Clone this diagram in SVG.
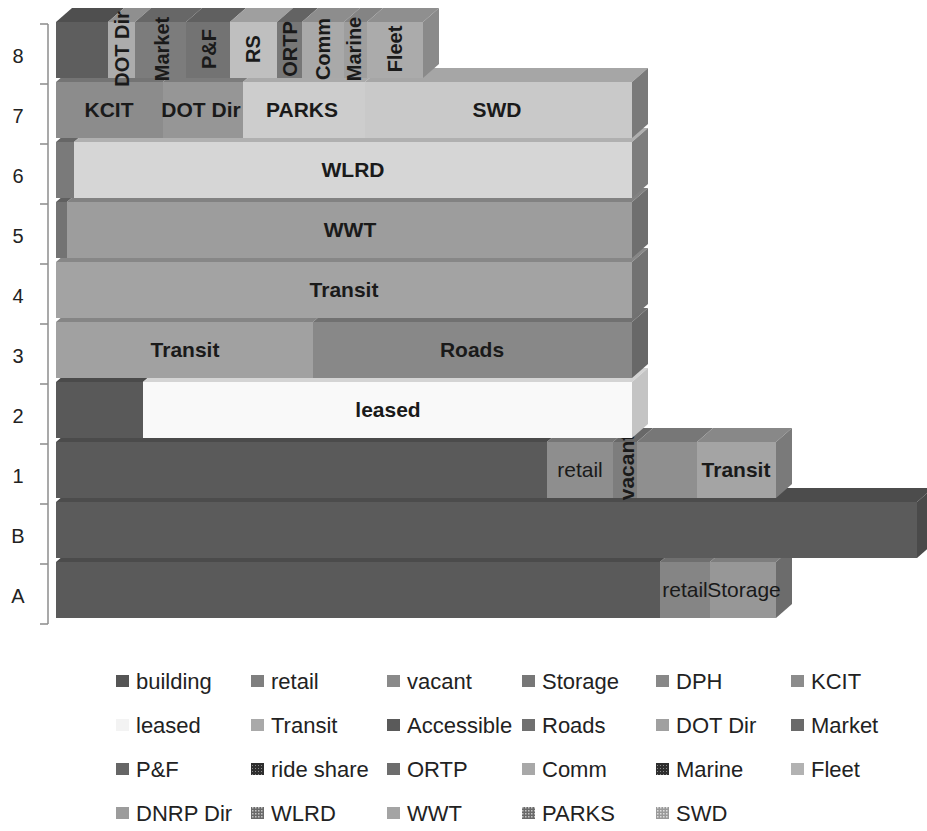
<svg xmlns="http://www.w3.org/2000/svg" width="927" height="831" viewBox="0 0 927 831">
<style>
.cat{font-family:"Liberation Sans",Arial,sans-serif;font-size:20px;fill:#222;text-anchor:middle}
.lb{font-family:"Liberation Sans",Arial,sans-serif;font-size:21px;font-weight:bold;fill:#1a1a1a;text-anchor:middle}
.lr{font-family:"Liberation Sans",Arial,sans-serif;font-size:21px;fill:#1a1a1a;text-anchor:middle}
.lv{font-family:"Liberation Sans",Arial,sans-serif;font-size:20px;font-weight:bold;fill:#1a1a1a;text-anchor:middle;dominant-baseline:central}
.lg{font-family:"Liberation Sans",Arial,sans-serif;font-size:22px;fill:#222}
.ax{stroke:#8c8c8c;stroke-width:1.5;fill:none}
</style>
<defs>
<pattern id="pDark" width="3" height="3" patternUnits="userSpaceOnUse"><rect width="3" height="3" fill="#2e2e2e"/><rect width="1" height="1" fill="#8a8a8a"/></pattern>
<pattern id="pMid" width="3" height="3" patternUnits="userSpaceOnUse"><rect width="3" height="3" fill="#6a6a6a"/><rect width="1.5" height="1.5" fill="#c4c4c4"/></pattern>
<pattern id="pLight" width="3" height="3" patternUnits="userSpaceOnUse"><rect width="3" height="3" fill="#9a9a9a"/><rect width="1.5" height="1.5" fill="#dedede"/></pattern>
</defs>
<rect width="927" height="831" fill="#ffffff"/>

<g id="axis">
<line class="ax" x1="48" y1="24" x2="48" y2="624"/>
<path class="ax" d="M40 24H48M40 84H48M40 144H48M40 204H48M40 264H48M40 324H48M40 384H48M40 444H48M40 504H48M40 564H48M40 624H48"/>
<text class="cat" x="18" y="63">8</text>
<text class="cat" x="18" y="123">7</text>
<text class="cat" x="18" y="183">6</text>
<text class="cat" x="18" y="243">5</text>
<text class="cat" x="18" y="303">4</text>
<text class="cat" x="18" y="363">3</text>
<text class="cat" x="18" y="423">2</text>
<text class="cat" x="18" y="483">1</text>
<text class="cat" x="18" y="543">B</text>
<text class="cat" x="18" y="603">A</text>
</g>

<g id="bar-A">
<polygon points="56,562 660,562 676,548 72,548" fill="#4b4b4b"/>
<polygon points="660,562 710,562 726,548 676,548" fill="#6f6f6f"/>
<polygon points="710,562 776,562 792,548 726,548" fill="#7e7e7e"/>
<polygon points="776,562 792,548 792,604 776,618" fill="#6c6c6c"/>
<rect x="56" y="562" width="604" height="56" fill="#5a5a5a"/>
<rect x="660" y="562" width="50" height="56" fill="#858585"/>
<rect x="710" y="562" width="66" height="56" fill="#979797"/>
<text class="lr" x="685" y="597">retail</text>
<text class="lr" x="744" y="597">Storage</text>
</g>

<g id="bar-B">
<polygon points="56,502 917,502 933,488 72,488" fill="#4c4c4c"/>
<polygon points="917,502 933,488 933,544 917,558" fill="#4a4a4a"/>
<rect x="56" y="502" width="861" height="56" fill="#5b5b5b"/>
</g>

<g id="bar-1">
<polygon points="56,442 547,442 563,428 72,428" fill="#4b4b4b"/>
<polygon points="547,442 613,442 629,428 563,428" fill="#767676"/>
<polygon points="613,442 637,442 653,428 629,428" fill="#686868"/>
<polygon points="637,442 697,442 713,428 653,428" fill="#777777"/>
<polygon points="697,442 776,442 792,428 713,428" fill="#888888"/>
<polygon points="776,442 792,428 792,484 776,498" fill="#7a7a7a"/>
<rect x="56" y="442" width="491" height="56" fill="#5a5a5a"/>
<rect x="547" y="442" width="66" height="56" fill="#8e8e8e"/>
<rect x="613" y="442" width="24" height="56" fill="#7d7d7d"/>
<rect x="637" y="442" width="60" height="56" fill="#8f8f8f"/>
<rect x="697" y="442" width="79" height="56" fill="#a4a4a4"/>
<text class="lr" x="580" y="477">retail</text>
<text class="lb" style="dominant-baseline:central" transform="translate(626,467) rotate(-90)">vacant</text>
<text class="lb" x="736" y="477">Transit</text>
</g>

<g id="bar-2">
<polygon points="56,382 143,382 159,368 72,368" fill="#4a4a4a"/>
<polygon points="143,382 632,382 648,368 159,368" fill="#d4d4d4"/>
<polygon points="632,382 648,368 648,424 632,438" fill="#c4c4c4"/>
<rect x="56" y="382" width="87" height="56" fill="#595959"/>
<rect x="143" y="382" width="489" height="56" fill="#f9f9f9"/>
<text class="lb" x="388" y="417">leased</text>
</g>

<g id="bar-3">
<polygon points="56,322 313,322 329,308 72,308" fill="#858585"/>
<polygon points="313,322 632,322 648,308 329,308" fill="#717171"/>
<polygon points="632,322 648,308 648,364 632,378" fill="#686868"/>
<rect x="56" y="322" width="257" height="56" fill="#a1a1a1"/>
<rect x="313" y="322" width="319" height="56" fill="#888888"/>
<text class="lb" x="185" y="357">Transit</text>
<text class="lb" x="472" y="357">Roads</text>
</g>

<g id="bar-4">
<polygon points="56,262 632,262 648,248 72,248" fill="#878787"/>
<polygon points="632,262 648,248 648,304 632,318" fill="#727272"/>
<rect x="56" y="262" width="576" height="56" fill="#a3a3a3"/>
<text class="lb" x="344" y="297">Transit</text>
</g>

<g id="bar-5">
<polygon points="56,202 67,202 83,188 72,188" fill="#606060"/>
<polygon points="67,202 632,202 648,188 83,188" fill="#828282"/>
<polygon points="632,202 648,188 648,244 632,258" fill="#6f6f6f"/>
<rect x="56" y="202" width="11" height="56" fill="#737373"/>
<rect x="67" y="202" width="565" height="56" fill="#9d9d9d"/>
<text class="lb" x="350" y="237">WWT</text>
</g>

<g id="bar-6">
<polygon points="56,142 74,142 90,128 72,128" fill="#666666"/>
<polygon points="74,142 632,142 648,128 90,128" fill="#b0b0b0"/>
<polygon points="632,142 648,128 648,184 632,198" fill="#7d7d7d"/>
<rect x="56" y="142" width="18" height="56" fill="#7a7a7a"/>
<rect x="74" y="142" width="558" height="56" fill="#d6d6d6"/>
<text class="lb" x="353" y="177">WLRD</text>
</g>

<g id="bar-7">
<polygon points="56,82 163,82 179,68 72,68" fill="#747474"/>
<polygon points="163,82 243,82 259,68 179,68" fill="#7c7c7c"/>
<polygon points="243,82 365,82 381,68 259,68" fill="#aaaaaa"/>
<polygon points="365,82 632,82 648,68 381,68" fill="#a6a6a6"/>
<polygon points="632,82 648,68 648,124 632,138" fill="#7a7a7a"/>
<rect x="56" y="82" width="107" height="56" fill="#8c8c8c"/>
<rect x="163" y="82" width="80" height="56" fill="#969696"/>
<rect x="243" y="82" width="122" height="56" fill="#cdcdcd"/>
<rect x="365" y="82" width="267" height="56" fill="#c9c9c9"/>
<text class="lb" x="109" y="117">KCIT</text>
<text class="lb" x="201" y="117">DOT Dir</text>
<text class="lb" x="302" y="117">PARKS</text>
<text class="lb" x="497" y="117">SWD</text>
</g>

<g id="bar-8">
<polygon points="56,22 108,22 124,8 72,8" fill="#4f4f4f"/>
<polygon points="108,22 135,22 151,8 124,8" fill="#8f8f8f"/>
<polygon points="135,22 186,22 202,8 151,8" fill="#676767"/>
<polygon points="186,22 230,22 246,8 202,8" fill="#606060"/>
<polygon points="230,22 277,22 293,8 246,8" fill="#9f9f9f"/>
<polygon points="277,22 302,22 318,8 293,8" fill="#636363"/>
<polygon points="302,22 344,22 360,8 318,8" fill="#8d8d8d"/>
<polygon points="344,22 367,22 383,8 360,8" fill="#848484"/>
<polygon points="367,22 423,22 439,8 383,8" fill="#8f8f8f"/>
<polygon points="423,22 439,8 439,64 423,78" fill="#8a8a8a"/>
<rect x="56" y="22" width="52" height="56" fill="#5e5e5e"/>
<rect x="108" y="22" width="27" height="56" fill="#acacac"/>
<rect x="135" y="22" width="51" height="56" fill="#7c7c7c"/>
<rect x="186" y="22" width="44" height="56" fill="#737373"/>
<rect x="230" y="22" width="47" height="56" fill="#bfbfbf"/>
<rect x="277" y="22" width="25" height="56" fill="#777777"/>
<rect x="302" y="22" width="42" height="56" fill="#a9a9a9"/>
<rect x="344" y="22" width="23" height="56" fill="#9e9e9e"/>
<rect x="367" y="22" width="56" height="56" fill="#ababab"/>
<text class="lv" transform="translate(122,49) rotate(-90)">DOT Dir</text>
<text class="lv" transform="translate(162,49) rotate(-90)">Market</text>
<text class="lv" transform="translate(209,49) rotate(-90)">P&amp;F</text>
<text class="lv" transform="translate(253,49) rotate(-90)">RS</text>
<text class="lv" transform="translate(290,49) rotate(-90)">ORTP</text>
<text class="lv" transform="translate(323,49) rotate(-90)">Comm</text>
<text class="lv" transform="translate(354,49) rotate(-90)">Marine</text>
<text class="lv" transform="translate(395,49) rotate(-90)">Fleet</text>
</g>

<g id="connectors"></g>

<g id="legend">
<g id="lg-building"><rect x="116" y="675" width="13" height="12" fill="#555555"/><text class="lg" x="136" y="689">building</text></g>
<g id="lg-retail"><rect x="251" y="675" width="13" height="12" fill="#7f7f7f"/><text class="lg" x="271" y="689">retail</text></g>
<g id="lg-vacant"><rect x="387" y="675" width="13" height="12" fill="#8a8a8a"/><text class="lg" x="407" y="689">vacant</text></g>
<g id="lg-storage"><rect x="522" y="675" width="13" height="12" fill="#777777"/><text class="lg" x="542" y="689">Storage</text></g>
<g id="lg-dph"><rect x="656" y="675" width="13" height="12" fill="#888888"/><text class="lg" x="676" y="689">DPH</text></g>
<g id="lg-kcit"><rect x="791" y="675" width="13" height="12" fill="#8c8c8c"/><text class="lg" x="811" y="689">KCIT</text></g>

<g id="lg-leased"><rect x="116" y="719" width="13" height="12" fill="#f3f3f3"/><text class="lg" x="136" y="733">leased</text></g>
<g id="lg-transit"><rect x="251" y="719" width="13" height="12" fill="#a9a9a9"/><text class="lg" x="271" y="733">Transit</text></g>
<g id="lg-accessible"><rect x="387" y="719" width="13" height="12" fill="#5a5a5a"/><text class="lg" x="407" y="733">Accessible</text></g>
<g id="lg-roads"><rect x="522" y="719" width="13" height="12" fill="#707070"/><text class="lg" x="542" y="733">Roads</text></g>
<g id="lg-dotdir"><rect x="656" y="719" width="13" height="12" fill="#a0a0a0"/><text class="lg" x="676" y="733">DOT Dir</text></g>
<g id="lg-market"><rect x="791" y="719" width="13" height="12" fill="#6a6a6a"/><text class="lg" x="811" y="733">Market</text></g>

<g id="lg-pf"><rect x="116" y="763" width="13" height="12" fill="#666666"/><text class="lg" x="136" y="777">P&amp;F</text></g>
<g id="lg-rideshare"><rect x="251" y="763" width="13" height="12" fill="url(#pDark)"/><text class="lg" x="271" y="777">ride share</text></g>
<g id="lg-ortp"><rect x="387" y="763" width="13" height="12" fill="#6d6d6d"/><text class="lg" x="407" y="777">ORTP</text></g>
<g id="lg-comm"><rect x="522" y="763" width="13" height="12" fill="#a8a8a8"/><text class="lg" x="542" y="777">Comm</text></g>
<g id="lg-marine"><rect x="656" y="763" width="13" height="12" fill="url(#pDark)"/><text class="lg" x="676" y="777">Marine</text></g>
<g id="lg-fleet"><rect x="791" y="763" width="13" height="12" fill="#b2b2b2"/><text class="lg" x="811" y="777">Fleet</text></g>

<g id="lg-dnrp"><rect x="116" y="807" width="13" height="12" fill="#9c9c9c"/><text class="lg" x="136" y="821">DNRP Dir</text></g>
<g id="lg-wlrd"><rect x="251" y="807" width="13" height="12" fill="url(#pMid)"/><text class="lg" x="271" y="821">WLRD</text></g>
<g id="lg-wwt"><rect x="387" y="807" width="13" height="12" fill="#a4a4a4"/><text class="lg" x="407" y="821">WWT</text></g>
<g id="lg-parks"><rect x="522" y="807" width="13" height="12" fill="url(#pMid)"/><text class="lg" x="542" y="821">PARKS</text></g>
<g id="lg-swd"><rect x="656" y="807" width="13" height="12" fill="url(#pLight)"/><text class="lg" x="676" y="821">SWD</text></g>
</g>
</svg>
